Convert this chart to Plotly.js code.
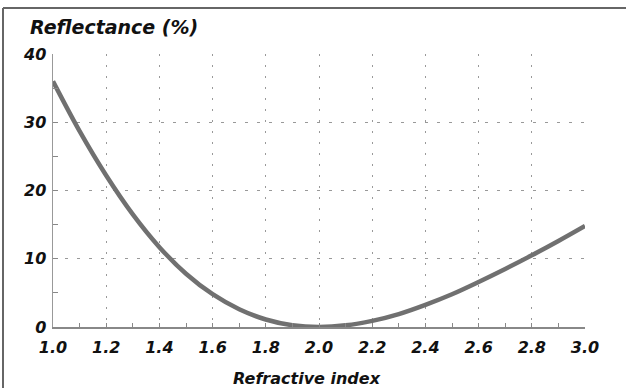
<!DOCTYPE html>
<html>
<head>
<meta charset="utf-8">
<script src="https://cdn.plot.ly/plotly-3.0.1.min.js"></script>
<style>html,body{margin:0;padding:0;background:#fff;}#chart{width:626px;height:388px;}</style>
</head>
<body>
<div id="chart"></div>
<script>
const refractiveIndex = [1.0,1.1,1.2,1.3,1.4,1.5,1.6,1.7,1.8,1.9,2.0,2.1,2.2,2.3,2.4,2.5,2.6,2.7,2.8,2.9,3.0];
const reflectance = [36.0,28.7,22.2,16.5,11.7,7.8,4.8,2.6,1.1,0.26,0.0,0.24,0.9,1.9,3.25,4.8,6.6,8.5,10.5,12.6,14.8];
const xTickVals = [1.0,1.2,1.4,1.6,1.8,2.0,2.2,2.4,2.6,2.8,3.0];
const xTickText = ["1.0","1.2","1.4","1.6","1.8","2.0","2.2","2.4","2.6","2.8","3.0"];
const yTickVals = [0,10,20,30,40];
const yTickText = ["0","10","20","30","40"];

const W = 626, H = 388, L = 53, R = 41, T = 54, B = 61;
const pw = W - L - R, ph = H - T - B;
const px = v => (v - L) / pw;
const py = v => (H - B - v) / ph;

const FAM = "DejaVu Sans, Verdana, sans-serif";
const tickFont = {family: FAM, size: 16, color: "#111", weight: "bold", style: "italic"};
const titleFont = {family: FAM, size: 16, color: "#111", weight: "bold", style: "italic"};
const topTitleFont = {family: FAM, size: 19, color: "#111", weight: "bold", style: "italic"};

const trace = {
  x: refractiveIndex, y: reflectance, type: "scatter", mode: "lines",
  line: {color: "#707070", width: 4.5, shape: "spline", smoothing: 1},
  hoverinfo: "skip"
};

const layout = {
  width: W, height: H,
  margin: {l: L, r: R, t: T, b: B},
  paper_bgcolor: "#fff", plot_bgcolor: "#fff",
  showlegend: false,
  title: {
    text: "Reflectance (%)", xref: "container", yref: "container",
    x: 30 / W, xanchor: "left", y: 1 - 27 / H, yanchor: "middle",
    font: topTitleFont
  },
  xaxis: {
    range: [1.0, 3.0], tickvals: xTickVals, ticktext: xTickText,
    ticks: "inside", ticklen: 4, tickcolor: "#888", tickwidth: 1,
    minor: {dtick: 0.1, tick0: 1.0, ticks: "inside", ticklen: 4, tickcolor: "#888", showgrid: false},
    showline: true, linecolor: "#888", linewidth: 1.5,
    showgrid: true, gridcolor: "#999", gridwidth: 1, griddash: "2px,9px",
    zeroline: false, tickfont: tickFont, ticklabelstandoff: 5, fixedrange: true
  },
  yaxis: {
    range: [0, 40], tickvals: yTickVals, ticktext: yTickText,
    ticks: "inside", ticklen: 5, tickcolor: "#888", tickwidth: 1,
    minor: {tickvals: [5, 15, 25, 35], ticks: "inside", ticklen: 5, tickcolor: "#888", showgrid: false},
    showline: true, linecolor: "#999", linewidth: 1.5,
    showgrid: true, gridcolor: "#999", gridwidth: 1, griddash: "3px,9px",
    zeroline: false, tickfont: tickFont, ticklabelstandoff: 2, fixedrange: true
  },
  annotations: [{
    text: "Refractive index", xref: "paper", yref: "paper",
    x: px(307), y: py(378), xanchor: "center", yanchor: "middle", showarrow: false,
    font: titleFont
  }],
  shapes: [
    {type: "line", xref: "paper", yref: "paper", x0: px(3), x1: px(626), y0: py(8), y1: py(8), line: {color: "#666", width: 2}},
    {type: "line", xref: "paper", yref: "paper", x0: px(3), x1: px(3), y0: py(8), y1: py(388), line: {color: "#666", width: 2}}
  ]
};

Plotly.newPlot("chart", [trace], layout, {displayModeBar: false, staticPlot: true});
</script>
</body>
</html>
